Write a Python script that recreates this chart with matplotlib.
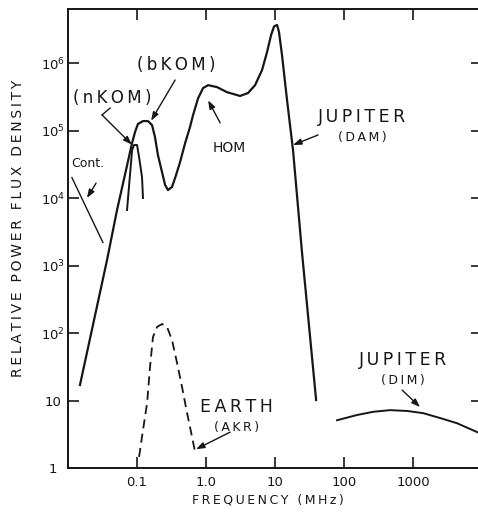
import numpy as np
import matplotlib.pyplot as plt

# Jupiter kilometric/hectometric/decametric spectrum (MHz, relative flux)
jup_freq = [0.0149, 0.0367, 0.0513, 0.0847, 0.0935, 0.103, 0.122, 0.144, 0.165,
            0.182, 0.201, 0.230, 0.255, 0.281, 0.321, 0.356, 0.420, 0.497, 0.586,
            0.649, 0.766, 0.905, 1.07, 1.44, 2.01, 3.11, 4.06, 5.13, 6.48, 7.66,
            8.75, 9.68, 10.7, 11.4, 12.6, 14.9, 18.2, 24.6, 39.3]
jup_flux = [17, 1200, 6640, 6.5e4, 9.5e4, 1.25e5, 1.38e5, 1.38e5, 1.2e5,
            8.0e4, 4.3e4, 2.43e4, 1.56e4, 1.31e4, 1.46e4, 1.98e4, 3.4e4, 6.5e4, 1.13e5,
            1.7e5, 3.0e5, 4.26e5, 4.7e5, 4.4e5, 3.7e5, 3.25e5, 3.6e5, 4.7e5, 7.9e5, 1.46e6,
            2.6e6, 3.5e6, 3.66e6, 2.88e6, 1.31e6, 2.83e5, 5.1e4, 1530, 10.2]

# narrow-band KOM
nkom_freq = [0.0716, 0.0847, 0.0906, 0.100, 0.107, 0.118, 0.122]
nkom_flux = [6640, 5.1e4, 6.1e4, 6.1e4, 4.05e4, 2.05e4, 1.0e4]

# continuum segment
cont_freq = [0.0114, 0.032]
cont_flux = [2.0e4, 2.2e3]

# Earth AKR (dashed)
akr_freq = [0.107, 0.122, 0.140, 0.154, 0.170, 0.195, 0.230, 0.272, 0.321,
            0.380, 0.449, 0.531, 0.627, 0.693]
akr_flux = [1.46, 3.66, 9.2, 31, 87, 123, 136, 123, 79, 36, 15.8, 6.5, 2.88, 1.73]

# Jupiter decimetric
dim_freq = [79, 154, 263, 464, 819, 1396, 2462, 4346, 8480]
dim_flux = [5.1, 6.1, 6.8, 7.2, 7.0, 6.5, 5.5, 4.6, 3.4]

xticks = [0.1, 1, 10, 100, 1000]
xticklabels = ['0.1', '1.0', '10', '100', '1000']
yticks = [1, 10, 1e2, 1e3, 1e4, 1e5, 1e6]
yticklabels = ['1', '10', r'$\mathregular{10^2}$', r'$\mathregular{10^3}$',
               r'$\mathregular{10^4}$', r'$\mathregular{10^5}$', r'$\mathregular{10^6}$']

INK = '#161616'


def spaced(s, gap='\u2009'):
    return gap.join(s)


fig = plt.figure(figsize=(4.78, 5.13), dpi=100)
ax = fig.add_axes([0.1423, 0.0877, 0.8577, 0.8947])
ax.set_xscale('log')
ax.set_yscale('log')
ax.set_xlim(0.01, 10 ** 3.94)
ax.set_ylim(1, 10 ** 6.8)

ax.plot(jup_freq, jup_flux, color=INK, lw=1.6, solid_joinstyle='round')
ax.plot(nkom_freq, nkom_flux, color=INK, lw=1.4, solid_joinstyle='round')
ax.plot(cont_freq, cont_flux, color=INK, lw=1.0)
ax.plot(akr_freq, akr_flux, color=INK, lw=1.3, dashes=(5, 3))
ax.plot(dim_freq, dim_flux, color=INK, lw=1.4, solid_joinstyle='round')

ax.xaxis.set_minor_locator(plt.NullLocator())
ax.yaxis.set_minor_locator(plt.NullLocator())
ax.set_xticks(xticks)
ax.set_xticklabels(xticklabels)
ax.set_yticks(yticks)
ax.set_yticklabels(yticklabels)
for lab in ax.get_yticklabels():
    lab.set_horizontalalignment('center')
ax.tick_params(axis='both', which='both', direction='in', colors=INK,
               labelsize=9.5, width=1.2)
ax.tick_params(axis='x', top=True, length=8, pad=6)
ax.tick_params(axis='y', right=True, length=8, pad=11)
for t in ax.yaxis.get_major_ticks():
    t.tick2line.set_markersize(5)
ax.spines['right'].set_visible(False)
for s in ['left', 'bottom', 'top']:
    ax.spines[s].set_linewidth(1.4)
    ax.spines[s].set_color(INK)

arrow = dict(arrowstyle='-|>,head_length=0.5,head_width=0.18', color=INK,
             lw=1.0, shrinkA=0, shrinkB=0)
big = dict(color=INK, ha='center', va='center')

ax.text(0.367, 9.3e5, spaced('(bKOM)'), fontsize=12, **big)
ax.annotate('', xy=(0.16, 1.4e5), xytext=(0.356, 5.6e5), arrowprops=arrow)

ax.text(0.0435, 3.0e5, spaced('(nKOM)'), fontsize=12, **big)
ax.plot([0.0406, 0.0311], [2.15e5, 1.7e5], color=INK, lw=1.0)
ax.annotate('', xy=(0.084, 6.2e4), xytext=(0.0311, 1.7e5), arrowprops=arrow)

ax.text(0.0195, 3.3e4, 'Cont.', fontsize=9, **big)
ax.annotate('', xy=(0.0188, 1.0e4), xytext=(0.0255, 1.66e4), arrowprops=arrow)

ax.text(2.15, 5.5e4, 'HOM', fontsize=10, **big)
ax.annotate('', xy=(1.07, 2.8e5), xytext=(1.6, 1.3e5), arrowprops=arrow)

ax.text(182, 1.6e5, spaced('JUPITER'), fontsize=12.5, **big)
ax.text(182, 8.0e4, spaced('(DAM)'), fontsize=9, **big)
ax.annotate('', xy=(18.2, 6.1e4), xytext=(42, 8.6e4), arrowprops=arrow)

ax.text(2.72, 8.0, spaced('EARTH'), fontsize=12.5, **big)
ax.text(2.8, 4.05, spaced('(AKR)'), fontsize=9, **big)
ax.annotate('', xy=(0.716, 1.9), xytext=(2.23, 3.4), arrowprops=arrow)

ax.text(716, 40, spaced('JUPITER'), fontsize=12.5, **big)
ax.text(716, 20, spaced('(DIM)'), fontsize=9, **big)
ax.annotate('', xy=(1260, 8.0), xytext=(692, 14.3), arrowprops=arrow)

fig.text(268 / 478, 1 - 500 / 513, spaced('FREQUENCY (MHz)'), fontsize=9,
         color=INK, ha='center', va='center')
fig.text(18 / 478, 1 - 228 / 513, spaced('RELATIVE POWER FLUX DENSITY'),
         fontsize=10, color=INK, ha='center', va='center', rotation=90)

fig.savefig('out.png', dpi=100)
